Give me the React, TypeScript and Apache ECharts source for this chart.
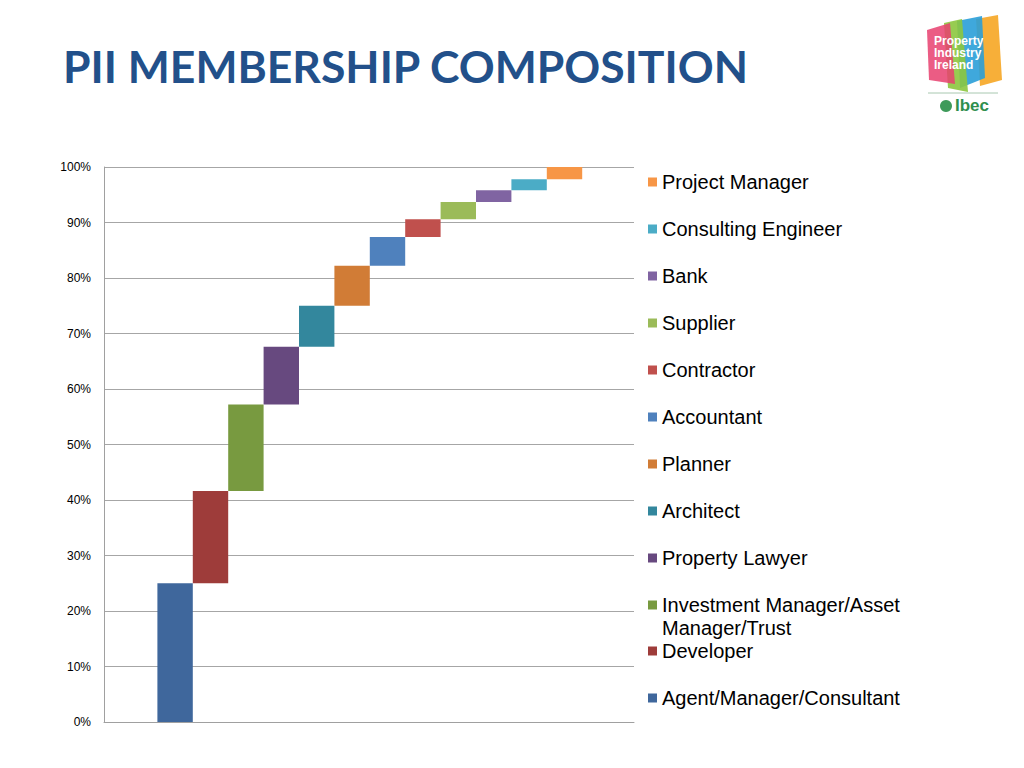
import React, { useEffect, useRef } from 'react';
import * as echarts from 'echarts';

const categories = [
  'Agent/Manager/Consultant',
  'Developer',
  'Investment Manager/Asset Manager/Trust',
  'Property Lawyer',
  'Architect',
  'Planner',
  'Accountant',
  'Contractor',
  'Supplier',
  'Bank',
  'Consulting Engineer',
  'Project Manager',
];
const shares = [25, 16.6, 15.6, 10.4, 7.4, 7.2, 5.2, 3.2, 3.1, 2.1, 2.0, 2.2];
const colors = [
  '#3F679C', '#9E3C3A', '#789A40', '#67497F', '#33879D', '#D17C36',
  '#4F81BD', '#C0504D', '#9BBB59', '#8064A2', '#4BACC6', '#F79646',
];
const title = 'PII MEMBERSHIP COMPOSITION';

export default function App() {
  const ref = useRef<HTMLDivElement>(null);
  useEffect(() => {
    const chart = echarts.init(ref.current!, null, { renderer: 'svg' });
    const bases: number[] = [];
    let acc = 0;
    shares.forEach((s) => {
      bases.push(Math.round(acc * 10) / 10);
      acc += s;
    });
    const series: any[] = [
      {
        name: '_base',
        type: 'bar',
        xAxisIndex: 1,
        yAxisIndex: 1,
        stack: 'w',
        data: bases,
        itemStyle: { color: 'rgba(0,0,0,0)' },
        silent: true,
        barCategoryGap: '0%',
      },
    ];
    categories.forEach((c, i) => {
      series.push({
        name: c,
        type: 'bar',
        xAxisIndex: 1,
        yAxisIndex: 1,
        stack: 'w',
        data: shares.map((v, j) => (j === i ? v : '-')),
        itemStyle: { color: colors[i] },
        barCategoryGap: '0%',
      });
    });
    const legendCommon = {
      orient: 'vertical',
      left: 648,
      itemWidth: 9,
      itemHeight: 9,
      icon: 'rect',
      itemGap: 24,
      padding: 0,
      selectedMode: false,
      textStyle: { fontFamily: 'Liberation Sans', fontSize: 20, lineHeight: 23, color: '#000' },
    };
    const longName = categories[2];
    chart.setOption({
      animation: false,
      backgroundColor: '#fff',
      grid: [
        { left: 104, top: 167, width: 530, height: 555 },
        { left: 157.4, top: 167, width: 424.8, height: 555 },
      ],
      xAxis: [
        {
          gridIndex: 0, type: 'value', min: 0, max: 1,
          axisLine: { show: true, lineStyle: { color: '#A0A0A0', width: 1 } },
          axisTick: { show: false }, axisLabel: { show: false }, splitLine: { show: false },
        },
        {
          gridIndex: 1, type: 'category', data: categories,
          axisLine: { show: false }, axisTick: { show: false }, axisLabel: { show: false },
        },
      ],
      yAxis: [
        {
          gridIndex: 0, type: 'value', min: 0, max: 100, interval: 10,
          axisLine: { show: true, lineStyle: { color: '#A0A0A0', width: 1 } },
          axisTick: { show: false },
          axisLabel: { formatter: '{value}%', fontFamily: 'Liberation Sans', fontSize: 12, color: '#000', margin: 13 },
          splitLine: { show: true, lineStyle: { color: '#A6A6A6', width: 1 } },
        },
        {
          gridIndex: 1, type: 'value', min: 0, max: 100, show: false,
        },
      ],
      legend: [
        { ...legendCommon, top: 170.5, data: categories.slice(3).reverse() },
        {
          ...legendCommon,
          top: 570.5,
          data: [longName],
          formatter: () => ' \nInvestment Manager/Asset\nManager/Trust',
        },
        { ...legendCommon, top: 639.5, data: [categories[1], categories[0]] },
      ],
      graphic: [
        {
          type: 'text', x: 63, y: 43,
          style: { text: title, fontFamily: 'Lato', fontWeight: 'bold', fontSize: 44.5, fill: '#22508A' },
        },
        { type: 'polygon', shape: { points: [[976, 19], [998, 15], [1002, 80], [980, 86]] }, style: { fill: '#F6A623', opacity: 0.9 } },
        { type: 'polygon', shape: { points: [[957, 21], [982, 16], [985, 78], [960, 88]] }, style: { fill: '#2A9FD8', opacity: 0.9 } },
        { type: 'polygon', shape: { points: [[944, 23], [962, 19], [968, 92], [948, 88]] }, style: { fill: '#8CC63E', opacity: 0.9 } },
        { type: 'polygon', shape: { points: [[927, 30], [950, 23], [955, 84], [929, 80]] }, style: { fill: '#E8406E', opacity: 0.85 } },
        {
          type: 'text', x: 934, y: 35,
          style: { text: 'Property\nIndustry\nIreland', fontFamily: 'Liberation Sans', fontWeight: 'bold', fontSize: 12, lineHeight: 12, fill: '#fff' },
        },
        { type: 'line', shape: { x1: 928, y1: 93, x2: 998, y2: 93 }, style: { stroke: '#A8C8B0', lineWidth: 1 } },
        { type: 'circle', shape: { cx: 946, cy: 106, r: 6 }, style: { fill: '#3E9A5A' } },
        {
          type: 'text', x: 955, y: 97,
          style: { text: 'Ibec', fontFamily: 'Liberation Sans', fontWeight: 'bold', fontSize: 17, fill: '#2F8F4E' },
        },
      ],
      series,
    });
    return () => chart.dispose();
  }, []);
  return <div ref={ref} style={{ position: 'absolute', left: 0, top: 0, width: 1024, height: 768 }} />;
}
